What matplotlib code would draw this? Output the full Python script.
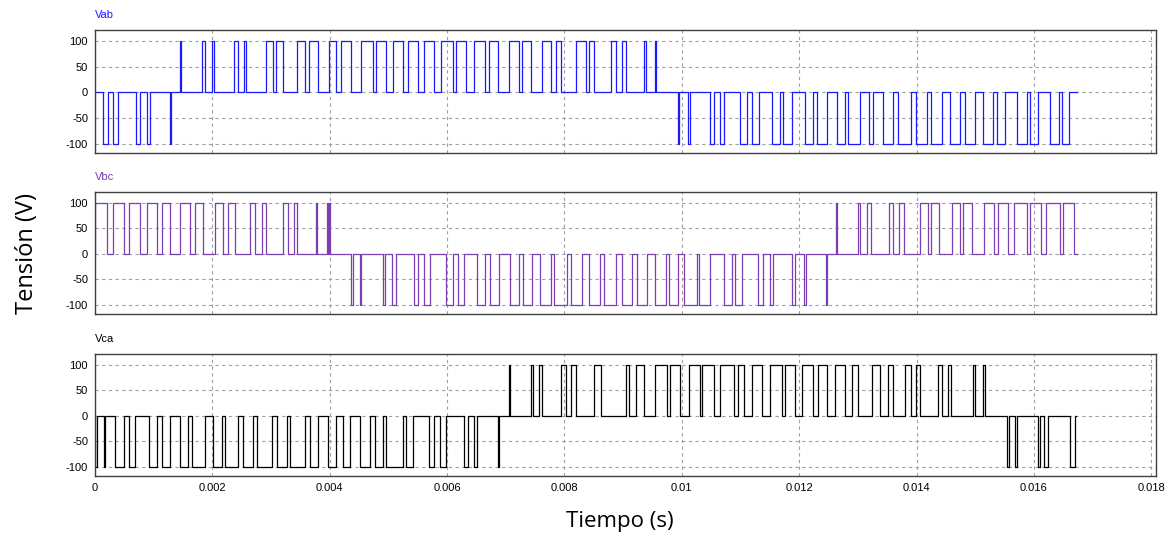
import numpy as np
import matplotlib
matplotlib.use("Agg")
import matplotlib.pyplot as plt

# pulse intervals, in ms: (start, end)
vab_pos = [(1.451, 1.463), (1.830, 1.876), (2.000, 2.034), (2.374, 2.442), (2.534, 2.573),
           (2.912, 3.026), (3.082, 3.196), (3.434, 3.575), (3.643, 3.800), (3.988, 4.114),
           (4.199, 4.369), (4.527, 4.736), (4.794, 4.963), (5.076, 5.246), (5.331, 5.500),
           (5.614, 5.784), (5.898, 6.095), (6.153, 6.323), (6.464, 6.651), (6.707, 6.860),
           (7.047, 7.217), (7.274, 7.427), (7.624, 7.767), (7.852, 7.937), (8.192, 8.362),
           (8.418, 8.503), (8.787, 8.872), (8.984, 9.042), (9.353, 9.382), (9.540, 9.562)]
vab_neg = [(0.138, 0.216), (0.308, 0.386), (0.698, 0.771), (0.885, 0.929), (1.281, 1.293),
           (9.935, 9.955), (10.105, 10.134), (10.486, 10.542), (10.656, 10.724), (10.996, 11.108),
           (11.193, 11.307), (11.533, 11.676), (11.731, 11.873), (12.100, 12.241), (12.309, 12.479),
           (12.637, 12.780), (12.836, 13.035), (13.190, 13.261), (13.431, 13.601), (13.686, 13.901),
           (13.997, 14.184), (14.241, 14.433), (14.564, 14.734), (14.819, 14.988), (15.130, 15.300),
           (15.374, 15.510), (15.713, 15.883), (15.940, 16.065), (16.280, 16.433), (16.472, 16.603)]
vab_end = 16.733

vbc_pos = [(0.0, 0.205), (0.307, 0.488), (0.573, 0.772), (0.885, 1.055), (1.140, 1.281),
           (1.451, 1.621), (1.706, 1.836), (2.046, 2.188), (2.273, 2.386), (2.641, 2.726),
           (2.839, 2.913), (3.207, 3.292), (3.388, 3.445), (3.774, 3.790), (3.955, 3.975),
           (3.985, 4.000),
           (12.626, 12.643), (13.006, 13.034), (13.159, 13.215), (13.532, 13.600), (13.702, 13.782),
           (14.065, 14.195), (14.252, 14.382), (14.609, 14.733), (14.790, 14.948), (15.141, 15.311),
           (15.385, 15.554), (15.668, 15.877), (15.934, 16.121), (16.206, 16.444), (16.489, 16.687)]
vbc_neg = [(4.357, 4.397), (4.510, 4.538), (4.906, 4.946), (5.059, 5.133), (5.433, 5.512),
           (5.603, 5.716), (5.982, 6.096), (6.181, 6.294), (6.509, 6.645), (6.736, 6.889),
           (7.076, 7.228), (7.285, 7.455), (7.585, 7.767), (7.823, 8.038), (8.118, 8.305),
           (8.418, 8.599), (8.673, 8.871), (8.984, 9.154), (9.239, 9.409), (9.551, 9.732),
           (9.777, 9.936), (10.032, 10.259), (10.298, 10.485), (10.712, 10.853), (10.910, 11.023),
           (11.295, 11.391), (11.505, 11.561), (11.873, 11.930), (12.077, 12.111), (12.456, 12.473)]
vbc_end = 16.727

vca_pos = [(7.058, 7.075), (7.426, 7.466), (7.568, 7.625), (7.936, 8.021), (8.106, 8.202),
           (8.503, 8.627), (9.041, 9.097), (9.211, 9.352), (9.550, 9.749), (9.805, 9.975),
           (10.117, 10.315), (10.343, 10.542), (10.655, 10.893), (10.950, 11.052), (11.194, 11.363),
           (11.505, 11.703), (11.760, 11.930), (12.043, 12.241), (12.326, 12.468), (12.610, 12.779),
           (12.893, 13.006), (13.233, 13.374), (13.516, 13.601), (13.799, 13.912), (13.997, 14.054),
           (14.365, 14.433), (14.535, 14.592), (14.960, 14.999), (15.130, 15.158)]
vca_neg = [(0.0, 0.035), (0.149, 0.177), (0.347, 0.488), (0.573, 0.687), (0.913, 1.055),
           (1.140, 1.281), (1.451, 1.593), (1.650, 1.876), (2.018, 2.159), (2.216, 2.442),
           (2.527, 2.697), (2.754, 3.009), (3.094, 3.264), (3.320, 3.575), (3.660, 3.802),
           (3.972, 4.113), (4.227, 4.340), (4.510, 4.680), (4.765, 4.906), (4.963, 5.246),
           (5.303, 5.416), (5.699, 5.784), (5.886, 5.982), (6.294, 6.362), (6.452, 6.509),
           (6.860, 6.877), (15.543, 15.583), (15.679, 15.713), (16.064, 16.110), (16.178, 16.234),
           (16.620, 16.699)]
vca_end = 16.716

level = 100
names = ["Vab", "Vbc", "Vca"]
colors = ["#1a1aff", "#7a3fb0", "#000000"]
xticks = [0, 0.002, 0.004, 0.006, 0.008, 0.01, 0.012, 0.014, 0.016, 0.018]
xtick_labels = ["0", "0.002", "0.004", "0.006", "0.008", "0.01", "0.012", "0.014", "0.016", "0.018"]
yticks = [-100, -50, 0, 50, 100]


def wave(pos, neg, t_end):
    segs = sorted([(a, b, level) for a, b in pos] + [(a, b, -level) for a, b in neg])
    x = [0.0]
    y = [0.0]
    for a, b, v in segs:
        x += [a, a, b, b]
        y += [0, v, v, 0]
    x.append(t_end)
    y.append(0)
    return np.array(x) * 1e-3, np.array(y)


traces = [wave(vab_pos, vab_neg, vab_end),
          wave(vbc_pos, vbc_neg, vbc_end),
          wave(vca_pos, vca_neg, vca_end)]

plt.rcParams['font.family'] = ['Liberation Sans', 'DejaVu Sans']
plt.rcParams['axes.unicode_minus'] = False

fig = plt.figure(figsize=(11.65, 5.41), dpi=100)
W, H = 1165, 541
tops = [30, 192, 354]
bottoms = [153, 314, 476]

for i in range(3):
    ax = fig.add_axes([95 / W, 1 - bottoms[i] / H, (1156 - 95) / W, (bottoms[i] - tops[i]) / H])
    x, y = traces[i]
    ax.plot(x, y, color=colors[i], lw=0.9)
    ax.set_xlim(0, 0.01808)
    ax.set_ylim(-118, 121)
    ax.set_yticks(yticks)
    ax.set_xticks(xticks)
    if i == 2:
        ax.set_xticklabels(xtick_labels)
    else:
        ax.set_xticklabels([])
    ax.grid(True, color="#a0a0a0", ls=(0, (3, 3)), lw=0.8)
    ax.tick_params(length=0, labelsize=8, pad=5)
    for s in ax.spines.values():
        s.set_color("#404040")
        s.set_linewidth(1.0)
    fig.text(95 / W, 1 - (tops[i] - 15) / H, names[i], color=colors[i], fontsize=8,
             va="center", ha="left")

fig.text(27 / W, 1 - 254 / H, "Tensión (V)", rotation=90, fontsize=17,
         va="center", ha="center", family=["Open Sans", "DejaVu Sans"])
fig.text(620 / W, 1 - 522 / H, "Tiempo (s)", fontsize=16,
         va="center", ha="center", family=["Open Sans", "DejaVu Sans"])

fig.savefig("out.png", dpi=100)
